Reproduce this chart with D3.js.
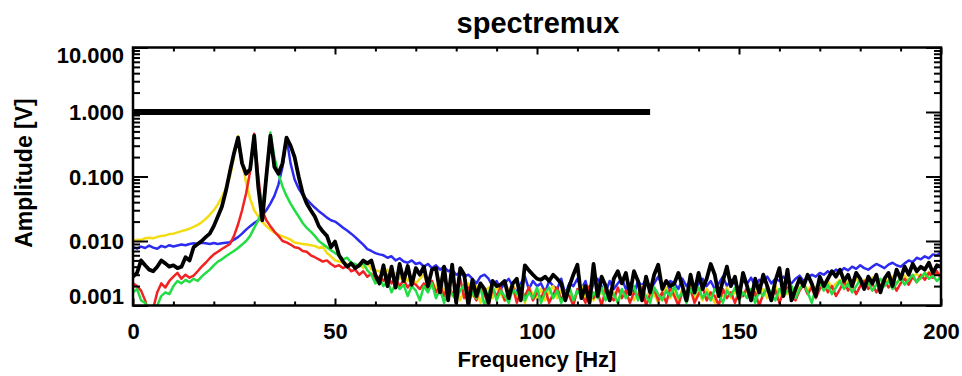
<!DOCTYPE html>
<html>
<head>
<meta charset="utf-8">
<script src="https://cdn.jsdelivr.net/npm/d3@7"></script>
<style>
  body { margin: 0; background: #fff; }
  svg text { font-family: "Liberation Sans", Arial, sans-serif; font-weight: bold; fill: #000; }
</style>
</head>
<body>
<svg id="chart" width="962" height="376"></svg>
<script>
// spectra, one value per 1 Hz bin from 0 to 200 Hz, amplitude in V
const freq = d3.range(0, 201)

const yellow = [
  0.0100, 0.0105, 0.0104, 0.0110, 0.0112, 0.0110, 0.0116, 0.0120, 0.0122, 0.0128,
  0.0130, 0.0136, 0.0142, 0.0148, 0.0155, 0.0165, 0.0178, 0.0195, 0.0220, 0.0255,
  0.030, 0.037, 0.048, 0.066, 0.100, 0.20, 0.42, 0.17, 0.080, 0.045,
  0.030, 0.024, 0.020, 0.017, 0.015, 0.0135, 0.0125, 0.0118, 0.0112, 0.0105,
  0.0095, 0.0092, 0.0090, 0.0088, 0.0086, 0.0084, 0.0078, 0.0082, 0.0065, 0.0058,
  0.0050, 0.0048, 0.0046, 0.0044, 0.0042, 0.0040, 0.0044, 0.0038, 0.0047, 0.0036, 0.0035,
  0.0034, 0.0030, 0.0036, 0.0028, 0.0032, 0.0026, 0.0030, 0.0024, 0.0028, 0.0022,
  0.0026, 0.0030, 0.0020, 0.0024, 0.0018, 0.0026, 0.0016, 0.0022, 0.0014, 0.0020,
  0.0012, 0.0018, 0.0022, 0.0014, 0.0020, 0.0011, 0.0016, 0.0019, 0.0013, 0.0020,
  0.0015, 0.0012, 0.0018, 0.0021, 0.0014, 0.0017, 0.0011, 0.0019, 0.0015, 0.0013,
  0.0018, 0.0012, 0.0016, 0.0020, 0.0013, 0.0017, 0.0014, 0.0019, 0.0011, 0.0016,
  0.0020, 0.0013, 0.0017, 0.0012, 0.0018, 0.0015, 0.0021, 0.0013, 0.0016, 0.0011,
  0.0017, 0.0014, 0.0019, 0.0012, 0.0016, 0.0020, 0.0013, 0.0018, 0.0015, 0.0011,
  0.0016, 0.0019, 0.0013, 0.0017, 0.0012, 0.0018, 0.0014, 0.0020, 0.0013, 0.0016,
  0.0012, 0.0018, 0.0015, 0.0011, 0.0017, 0.0014, 0.0019, 0.0013, 0.0016, 0.0018,
  0.0014, 0.0017, 0.0012, 0.0019, 0.0015, 0.0018, 0.0013, 0.0016, 0.0020, 0.0014,
  0.0018, 0.0015, 0.0020, 0.0016, 0.0019, 0.0022, 0.0017, 0.0021, 0.0018, 0.0023,
  0.0020, 0.0024, 0.0019, 0.0022, 0.0025, 0.0021, 0.0024, 0.0020, 0.0026, 0.0022,
  0.0025, 0.0021, 0.0027, 0.0023, 0.0020, 0.0026, 0.0024, 0.0028, 0.0022, 0.0026,
  0.0029, 0.0024, 0.0028, 0.0031, 0.0026, 0.0030, 0.0033, 0.0028, 0.0032, 0.0030
]

const red = [
  0.0022, 0.0020, 0.0017, 0.0012, 0.0007, 0.0009, 0.0016, 0.0022, 0.0019, 0.0024,
  0.0028, 0.0032, 0.0026, 0.0030, 0.0027, 0.0029, 0.0034, 0.0040, 0.0046, 0.0054,
  0.0062, 0.0068, 0.0075, 0.0082, 0.0090, 0.012, 0.018, 0.030, 0.055, 0.12,
  0.46, 0.10, 0.030, 0.021, 0.017, 0.014, 0.012, 0.010, 0.0095, 0.0088,
  0.0080, 0.0078, 0.0070, 0.0068, 0.0060, 0.0056, 0.0052, 0.0048, 0.0050, 0.0044,
  0.0040, 0.0042, 0.0038, 0.0041, 0.0034, 0.0036, 0.0030, 0.0034, 0.0028, 0.0031, 0.0025,
  0.0028, 0.0024, 0.0030, 0.0022, 0.0026, 0.0020, 0.0025, 0.0019, 0.0023, 0.0021,
  0.0018, 0.0022, 0.0017, 0.0024, 0.0016, 0.0020, 0.0014, 0.0021, 0.0015, 0.0019,
  0.0026, 0.0013, 0.0019, 0.0016, 0.0012, 0.0020, 0.0015, 0.0010, 0.0018, 0.0014,
  0.0019, 0.0012, 0.0016, 0.0020, 0.0011, 0.0017, 0.0014, 0.0019, 0.0012, 0.0016,
  0.0013, 0.0018, 0.0011, 0.0015, 0.0019, 0.0012, 0.0017, 0.0014, 0.0010, 0.0018,
  0.0015, 0.0011, 0.0020, 0.0013, 0.0016, 0.0010, 0.0018, 0.0014, 0.0012, 0.0019,
  0.0013, 0.0017, 0.0011, 0.0016, 0.0014, 0.0019, 0.0010, 0.0015, 0.0018, 0.0012,
  0.0016, 0.0011, 0.0019, 0.0014, 0.0010, 0.0017, 0.0013, 0.0018, 0.0011, 0.0015,
  0.0019, 0.0012, 0.0016, 0.0014, 0.0010, 0.0018, 0.0013, 0.0016, 0.0011, 0.0017,
  0.0014, 0.0019, 0.0012, 0.0016, 0.0010, 0.0015, 0.0018, 0.0013, 0.0017, 0.0011,
  0.0016, 0.0019, 0.0014, 0.0012, 0.0017, 0.0021, 0.0015, 0.0019, 0.0013, 0.0018,
  0.0022, 0.0016, 0.0020, 0.0014, 0.0018, 0.0024, 0.0017, 0.0021, 0.0015, 0.0020,
  0.0024, 0.0018, 0.0022, 0.0016, 0.0020, 0.0025, 0.0019, 0.0023, 0.0017, 0.0022,
  0.0026, 0.0021, 0.0028, 0.0023, 0.0030, 0.0025, 0.0032, 0.0027, 0.0034, 0.0026
]

const green = [
  0.0016, 0.0018, 0.0012, 0.0011, 0.0008, 0.0006, 0.0010, 0.0014, 0.0016, 0.0015,
  0.0020, 0.0024, 0.0022, 0.0025, 0.0023, 0.0026, 0.0024, 0.0028, 0.0032, 0.0036,
  0.0042, 0.0048, 0.0052, 0.0058, 0.0064, 0.0070, 0.0078, 0.0088, 0.0100, 0.0120,
  0.016, 0.021, 0.030, 0.10, 0.48, 0.20, 0.11, 0.070, 0.050, 0.038,
  0.030, 0.024, 0.019, 0.016, 0.014, 0.012, 0.010, 0.0090, 0.0080, 0.0072,
  0.0065, 0.0060, 0.0052, 0.0055, 0.0046, 0.0044, 0.0040, 0.0046, 0.0035, 0.0030, 0.0022,
  0.0026, 0.0020, 0.0024, 0.0016, 0.0022, 0.0018, 0.0021, 0.0014, 0.0020, 0.0017,
  0.0012, 0.0020, 0.0016, 0.0022, 0.0013, 0.0018, 0.0011, 0.0019, 0.0015, 0.0012,
  0.0017, 0.0021, 0.0011, 0.0016, 0.0013, 0.0019, 0.0010, 0.0016, 0.0020, 0.0012,
  0.0017, 0.0014, 0.0011, 0.0018, 0.0015, 0.0020, 0.0012, 0.0016, 0.0013, 0.0019,
  0.0011, 0.0016, 0.0019, 0.0013, 0.0017, 0.0011, 0.0015, 0.0020, 0.0012, 0.0017,
  0.0014, 0.0018, 0.0011, 0.0016, 0.0013, 0.0019, 0.0012, 0.0017, 0.0015, 0.0011,
  0.0018, 0.0013, 0.0016, 0.0020, 0.0012, 0.0017, 0.0014, 0.0011, 0.0019, 0.0015,
  0.0012, 0.0017, 0.0014, 0.0020, 0.0013, 0.0016, 0.0011, 0.0018, 0.0015, 0.0019,
  0.0013, 0.0016, 0.0012, 0.0018, 0.0015, 0.0011, 0.0017, 0.0014, 0.0019, 0.0012,
  0.0016, 0.0013, 0.0018, 0.0011, 0.0017, 0.0014, 0.0020, 0.0015, 0.0012, 0.0018,
  0.0014, 0.0017, 0.0020, 0.0013, 0.0018, 0.0022, 0.0016, 0.0011, 0.0019, 0.0023,
  0.0017, 0.0021, 0.0015, 0.0019, 0.0024, 0.0018, 0.0022, 0.0016, 0.0020, 0.0025,
  0.0019, 0.0023, 0.0017, 0.0021, 0.0026, 0.0020, 0.0024, 0.0018, 0.0022, 0.0027,
  0.0021, 0.0025, 0.0030, 0.0023, 0.0027, 0.0032, 0.0026, 0.0029, 0.0024, 0.0028
]

const blue = [
  0.0080, 0.0076, 0.0082, 0.0078, 0.0085, 0.0079, 0.0076, 0.0084, 0.0080, 0.0086,
  0.0082, 0.0085, 0.0088, 0.0086, 0.0090, 0.0092, 0.0090, 0.0094, 0.0092, 0.0090,
  0.0093, 0.0090, 0.0092, 0.0094, 0.0096, 0.0105, 0.0115, 0.0130, 0.0150, 0.0170,
  0.019, 0.021, 0.025, 0.030, 0.038, 0.050, 0.075, 0.14, 0.40, 0.16,
  0.090, 0.065, 0.052, 0.044, 0.038, 0.033, 0.029, 0.026, 0.023, 0.021,
  0.020, 0.018, 0.016, 0.0145, 0.013, 0.0115, 0.010, 0.0088, 0.0075, 0.0070, 0.0065,
  0.0062, 0.0060, 0.0055, 0.0058, 0.0050, 0.0054, 0.0048, 0.0046, 0.0050, 0.0044,
  0.0046, 0.0040, 0.0044, 0.0038, 0.0042, 0.0036, 0.0040, 0.0034, 0.0036, 0.0030,
  0.0032, 0.0028, 0.0030, 0.0026, 0.0022, 0.0028, 0.0030, 0.0026, 0.0020, 0.0024,
  0.0018, 0.0022, 0.0026, 0.0020, 0.0016, 0.0022, 0.0028, 0.0018, 0.0024, 0.0020,
  0.0022, 0.0016, 0.0024, 0.0020, 0.0018, 0.0026, 0.0015, 0.0022, 0.0020, 0.0026,
  0.0018, 0.0024, 0.0014, 0.0022, 0.0026, 0.0020, 0.0016, 0.0024, 0.0018, 0.0022,
  0.0026, 0.0018, 0.0022, 0.0015, 0.0024, 0.0020, 0.0026, 0.0018, 0.0022, 0.0028,
  0.0020, 0.0016, 0.0024, 0.0022, 0.0018, 0.0026, 0.0020, 0.0024, 0.0017, 0.0022,
  0.0026, 0.0020, 0.0024, 0.0018, 0.0022, 0.0028, 0.0020, 0.0025, 0.0022, 0.0018,
  0.0024, 0.0022, 0.0027, 0.0020, 0.0025, 0.0023, 0.0028, 0.0022, 0.0026, 0.0024,
  0.0028, 0.0025, 0.0022, 0.0026, 0.0029, 0.0024, 0.0027, 0.0030, 0.0028, 0.0032,
  0.0030, 0.0034, 0.0031, 0.0036, 0.0033, 0.0038, 0.0035, 0.0040, 0.0037, 0.0042,
  0.0038, 0.0036, 0.0040, 0.0044, 0.0041, 0.0038, 0.0043, 0.0046, 0.0042, 0.0040,
  0.0045, 0.0050, 0.0047, 0.0055, 0.0052, 0.0058, 0.0054, 0.0062, 0.0060, 0.0066
]

// mux output
const black = [
  0.0028, 0.0032, 0.0050, 0.0042, 0.0036, 0.0034, 0.0040, 0.0050, 0.0045, 0.0040,
  0.0042, 0.0038, 0.0040, 0.0056, 0.0050, 0.0080, 0.0090, 0.0100, 0.0115, 0.0130,
  0.017, 0.024, 0.034, 0.060, 0.12, 0.23, 0.40, 0.16, 0.11, 0.13,
  0.43, 0.07, 0.021, 0.10, 0.43, 0.14, 0.11, 0.16, 0.40, 0.30,
  0.20, 0.10, 0.055, 0.038, 0.030, 0.024, 0.017, 0.014, 0.012, 0.008,
  0.0098, 0.0060, 0.0048, 0.0040, 0.0045, 0.0038, 0.0042, 0.0050, 0.0045, 0.0050, 0.0030,
  0.0022, 0.0042, 0.0020, 0.0040, 0.0019, 0.0044, 0.0024, 0.0041, 0.0021, 0.0038,
  0.0030, 0.0040, 0.0020, 0.0036, 0.0038, 0.0016, 0.0040, 0.0012, 0.0043, 0.0011,
  0.0038, 0.0030, 0.0010, 0.0025, 0.0014, 0.0022, 0.0018, 0.0011, 0.0024, 0.0020,
  0.0021, 0.0024, 0.0013, 0.0022, 0.0026, 0.0012, 0.0042, 0.0035, 0.0030, 0.0026,
  0.0025, 0.0028, 0.0024, 0.0030, 0.0026, 0.0022, 0.0012, 0.0020, 0.0030, 0.0043,
  0.0013, 0.0020, 0.0011, 0.0044, 0.0014, 0.0028, 0.0020, 0.0012, 0.0026, 0.0034,
  0.0022, 0.0032, 0.0015, 0.0034, 0.0024, 0.0012, 0.0028, 0.0016, 0.0030, 0.0043,
  0.0018, 0.0024, 0.0020, 0.0022, 0.0032, 0.0020, 0.0012, 0.0030, 0.0016, 0.0032,
  0.0018, 0.0026, 0.0044, 0.0030, 0.0014, 0.0024, 0.0040, 0.0020, 0.0028, 0.0013,
  0.0032, 0.0020, 0.0012, 0.0026, 0.0016, 0.0030, 0.0020, 0.0012, 0.0024, 0.0038,
  0.0014, 0.0036, 0.0012, 0.0018, 0.0026, 0.0020, 0.0030, 0.0022, 0.0014, 0.0028,
  0.0020, 0.0026, 0.0034, 0.0028, 0.0036, 0.0024, 0.0030, 0.0020, 0.0032, 0.0026,
  0.0018, 0.0028, 0.0022, 0.0030, 0.0016, 0.0026, 0.0032, 0.0020, 0.0036, 0.0026,
  0.0040, 0.0030, 0.0044, 0.0034, 0.0040, 0.0036, 0.0046, 0.0032, 0.0042, 0.0040
]

// thick reference level
const refFreq = [0, 128]
const refAmp = [1, 1]

const yMajor = [0.001, 0.01, 0.1, 1, 10]
const xMajor = [0, 50, 100, 150, 200]

const series = [
  {values: blue, color: '#2b2bf2', width: 2.5},
  {values: yellow, color: '#f3dc12', width: 2.5},
  {values: red, color: '#f22222', width: 2.5},
  {values: green, color: '#22dd44', width: 2.5},
  {values: black, color: '#000', width: 3.8}
]

const width = 962, height = 376
const marginTop = 47.5, marginRight = 21, marginBottom = 70.5, marginLeft = 133

const svg = d3.select('#chart')

const x = d3.scaleLinear().domain([0, 200]).range([marginLeft, width - marginRight])
const y = d3.scaleLog().domain([0.001, 10]).range([height - marginBottom, marginTop])

const plotW = width - marginLeft - marginRight
const plotH = height - marginTop - marginBottom

svg.append('defs').append('clipPath').attr('id', 'plot')
  .append('rect')
  .attr('x', marginLeft).attr('y', marginTop)
  .attr('width', plotW).attr('height', plotH)

const plot = svg.append('g').attr('clip-path', 'url(#plot)')

const line = d3.line()
  .x((d, i) => x(freq[i]))
  .y(d => y(Math.max(d, 1e-5)))

series.forEach(s => {
  plot.append('path')
    .datum(s.values)
    .attr('fill', 'none')
    .attr('stroke', s.color)
    .attr('stroke-width', s.width)
    .attr('stroke-linejoin', 'round')
    .attr('d', line)
})

plot.append('path')
  .datum(refAmp)
  .attr('fill', 'none')
  .attr('stroke', '#000')
  .attr('stroke-width', 6)
  .attr('d', d3.line().x((d, i) => x(refFreq[i])).y(d => y(d)))

// axes, ticks point inward like IDL
const yMinor = y.ticks().filter(v => !yMajor.some(m => Math.abs(m - v) / m < 1e-6))
const xMinor = d3.range(0, 201, 10).filter(v => !xMajor.includes(v))

function tidy(g) {
  g.select('.domain').remove()
  g.selectAll('.tick line').attr('stroke', '#000').attr('stroke-width', 2)
}

svg.append('g').attr('transform', `translate(${marginLeft},0)`)
  .call(d3.axisLeft(y).tickValues(yMinor).tickSize(-7).tickFormat(''))
  .call(tidy)

svg.append('g').attr('transform', `translate(${marginLeft},0)`)
  .call(d3.axisLeft(y).tickValues(yMajor).tickSize(-15).tickPadding(9).tickFormat(d3.format('.3f')))
  .call(tidy)
  .call(g => g.selectAll('.tick text')
    .attr('font-size', 22)
    .attr('dy', null)
    .attr('dominant-baseline', 'central')
    .attr('y', d => Math.min(Math.max(y(d), 55), 295.5) - y(d)))

svg.append('g').attr('transform', `translate(${width - marginRight},0)`)
  .call(d3.axisRight(y).tickValues(yMinor).tickSize(-7).tickFormat(''))
  .call(tidy)

svg.append('g').attr('transform', `translate(${width - marginRight},0)`)
  .call(d3.axisRight(y).tickValues(yMajor).tickSize(-15).tickFormat(''))
  .call(tidy)

svg.append('g').attr('transform', `translate(0,${height - marginBottom})`)
  .call(d3.axisBottom(x).tickValues(xMinor).tickSize(-4).tickFormat(''))
  .call(tidy)

svg.append('g').attr('transform', `translate(0,${height - marginBottom})`)
  .call(d3.axisBottom(x).tickValues(xMajor).tickSize(-7).tickPadding(18).tickFormat(d3.format('d')))
  .call(tidy)
  .call(g => g.selectAll('.tick text').attr('font-size', 22))

svg.append('g').attr('transform', `translate(0,${marginTop})`)
  .call(d3.axisTop(x).tickValues(xMinor).tickSize(-4).tickFormat(''))
  .call(tidy)

svg.append('g').attr('transform', `translate(0,${marginTop})`)
  .call(d3.axisTop(x).tickValues(xMajor).tickSize(-7).tickFormat(''))
  .call(tidy)

// frame
svg.append('rect')
  .attr('x', marginLeft).attr('y', marginTop)
  .attr('width', plotW).attr('height', plotH)
  .attr('fill', 'none').attr('stroke', '#000').attr('stroke-width', 2.5)

svg.append('text')
  .attr('x', 538).attr('y', 33)
  .attr('text-anchor', 'middle')
  .attr('font-size', 29)
  .text('spectremux')

svg.append('text')
  .attr('x', 537).attr('y', 367)
  .attr('text-anchor', 'middle')
  .attr('font-size', 22)
  .text('Frequency [Hz]')

svg.append('text')
  .attr('transform', 'translate(32,173) rotate(-90)')
  .attr('text-anchor', 'middle')
  .attr('font-size', 23)
  .text('Amplitude [V]')
</script>
</body>
</html>
